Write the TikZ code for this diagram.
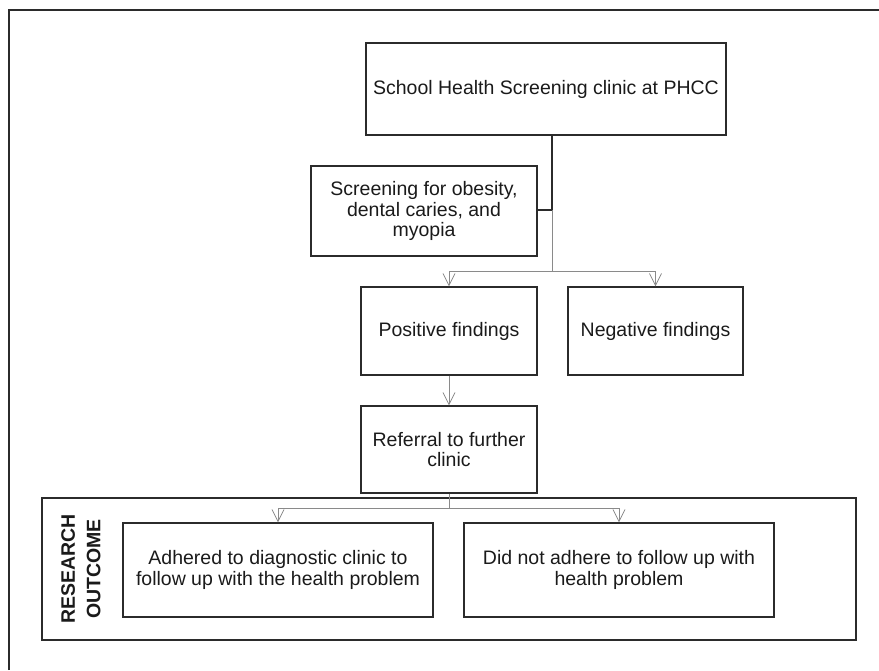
\documentclass[tikz,border=0pt]{standalone}
\usepackage{fontspec}
\setmainfont{Liberation Sans}
\usetikzlibrary{arrows.meta}
\definecolor{boxline}{HTML}{2B2B2B}
\definecolor{boxtext}{HTML}{1A1A1A}
\definecolor{linkgray}{HTML}{8A8A8A}
\tikzset{
  stepbox/.style={draw=boxline, line width=1.3pt, align=center, inner sep=2pt,
    text=boxtext, font=\fontsize{19.5}{20.5}\selectfont},
  link/.style={draw=linkgray, line width=0.8pt, -{Straight Barb[length=12pt,width=12pt]}},
  trunkline/.style={draw=boxline, line width=1.3pt}
}
\begin{document}
\begin{tikzpicture}[x=1pt, y=-1pt]
 \useasboundingbox (0,0) rectangle (879,670);

 % page frame, cut off at the right and bottom
 \draw[boxline, line width=1.4pt] (9,670) -- (9,10) -- (879,10);

 \node(clinic)[stepbox, minimum width=360pt, minimum height=92pt] at (546,89) {School Health Screening clinic at PHCC};
 \node(screen)[stepbox, minimum width=226pt, minimum height=90pt] at (424,211) {Screening for obesity,\\dental caries, and\\myopia};
 \node(pos)[stepbox, minimum width=176pt, minimum height=88pt] at (449,331) {Positive findings};
 \node(neg)[stepbox, minimum width=175pt, minimum height=88pt] at (655.5,331) {Negative findings};
 \node(refer)[stepbox, minimum width=176pt, minimum height=87pt] at (449,449.5) {Referral to further\\clinic};

 %Outcome frame
 \node(outbox)[draw=boxline, line width=1.3pt, minimum width=814pt, minimum height=142pt] at (449,569) {};
 \node(outlabel)[rotate=90, align=center, text=boxtext, font=\bfseries\fontsize{19.5}{25.5}\selectfont] at (81,569) {RESEARCH\\OUTCOME};
 \node(adh)[stepbox, minimum width=310pt, minimum height=94pt] at (278,570) {Adhered to diagnostic clinic to\\follow up with the health problem};
 \node(noadh)[stepbox, minimum width=310pt, minimum height=94pt] at (619,570) {Did not adhere to follow up with\\health problem};

 \coordinate (trunk) at (552,210);
 \coordinate (split) at (552,271);
 \coordinate (split2) at (449,508);

 \draw[trunkline] (clinic.south -| trunk) -- (trunk) -- (trunk -| screen.east);
 \draw[draw=linkgray, line width=0.8pt] (trunk) -- (split);
 \draw[link] (split) -| (pos.north);
 \draw[link] (split) -| (neg.north);
 \draw[link] (pos) -- (refer);
 \draw[draw=linkgray, line width=0.8pt] (refer.south) -- (split2);
 \draw[link] (split2) -| (adh.north);
 \draw[link] (split2) -| (noadh.north);
\end{tikzpicture}
\end{document}
